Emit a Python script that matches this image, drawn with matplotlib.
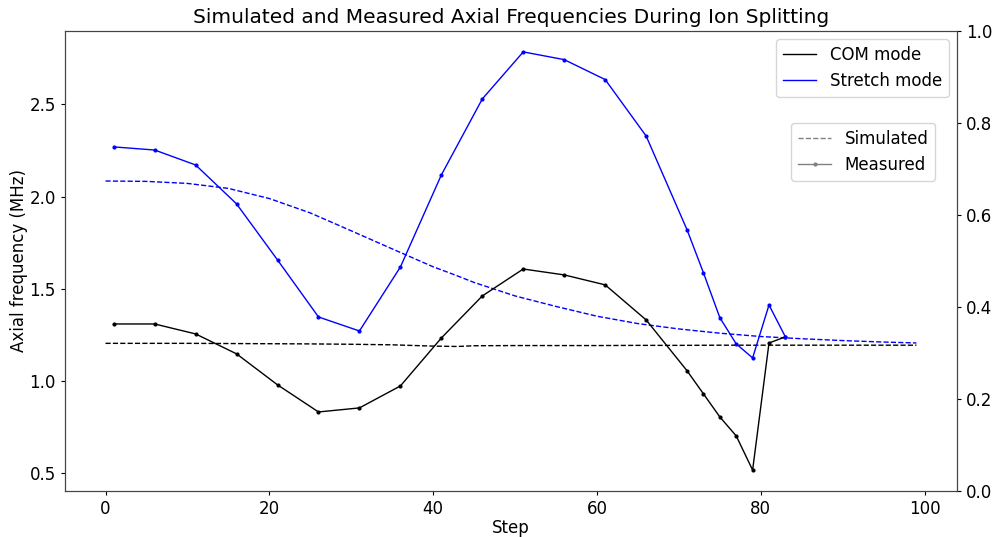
import matplotlib
matplotlib.use("Agg")
import matplotlib.pyplot as plt
from matplotlib.lines import Line2D

# Measured axial frequencies (MHz)
steps_meas = [1, 6, 11, 16, 21, 26, 31, 36, 41, 46, 51, 56, 61, 66, 71, 73, 75, 77, 79, 81, 83]
com_meas = [1.31, 1.31, 1.256, 1.148, 0.98, 0.833, 0.855, 0.974, 1.234, 1.462, 1.608, 1.576,
            1.522, 1.332, 1.056, 0.931, 0.806, 0.703, 0.518, 1.207, 1.24]
stretch_meas = [2.27, 2.253, 2.172, 1.961, 1.657, 1.348, 1.272, 1.619, 2.118, 2.53, 2.785, 2.743,
                2.635, 2.329, 1.82, 1.587, 1.344, 1.202, 1.126, 1.413, 1.24]

# Simulated axial frequencies (MHz)
steps_sim = [0, 5, 10, 15, 20, 25, 30, 35, 40, 43, 45, 50, 55, 60, 65, 70, 75, 80, 85, 90, 95, 99]
com_sim = [1.205, 1.205, 1.205, 1.204, 1.203, 1.202, 1.20, 1.197, 1.19, 1.188, 1.192, 1.193,
           1.193, 1.193, 1.194, 1.194, 1.195, 1.195, 1.195, 1.195, 1.195, 1.195]
stretch_sim = [2.085, 2.083, 2.072, 2.045, 1.99, 1.912, 1.815, 1.717, 1.62, 1.57, 1.535, 1.462,
               1.405, 1.352, 1.312, 1.283, 1.26, 1.242, 1.23, 1.22, 1.212, 1.207]

fig = plt.figure(figsize=(9.95, 5.37), dpi=100)
ax = fig.add_axes([0.0653, 0.0857, 0.8965, 0.8566])

ax.plot(steps_sim, com_sim, color="black", linestyle="--", linewidth=1.0)
ax.plot(steps_sim, stretch_sim, color="blue", linestyle="--", linewidth=1.0)
ax.plot(steps_meas, com_meas, color="black", linestyle="-", linewidth=1.0, marker=".", markersize=4)
ax.plot(steps_meas, stretch_meas, color="blue", linestyle="-", linewidth=1.0, marker=".", markersize=4)

ax.set_xlabel("Step", fontsize=12, labelpad=1)
ax.set_ylabel("Axial frequency (MHz)", fontsize=12, labelpad=1)
ax.set_title("Simulated and Measured Axial Frequencies During Ion Splitting", fontsize=14.5)
ax.tick_params(labelsize=12, length=3)
ax.set_yticks([0.5, 1.0, 1.5, 2.0, 2.5])

mode_handles = [Line2D([], [], color="black", linewidth=1.0),
                Line2D([], [], color="blue", linewidth=1.0)]
leg1 = ax.legend(mode_handles, ["COM mode", "Stretch mode"], loc="upper right", fontsize=12)
ax.add_artist(leg1)

kind_handles = [Line2D([], [], color="gray", linestyle="--", linewidth=1.0),
                Line2D([], [], color="gray", linestyle="-", linewidth=1.0, marker=".", markersize=4)]
ax.legend(kind_handles, ["Simulated", "Measured"], loc="upper right",
          bbox_to_anchor=(0.985, 0.818), fontsize=12)

ax2 = ax.twinx()
ax2.set_ylim(0, 1)
ax2.tick_params(labelsize=12, length=3)

for a in (ax, ax2):
    for s in a.spines.values():
        s.set_color("#444444")

fig.savefig("out.png", dpi=100)
